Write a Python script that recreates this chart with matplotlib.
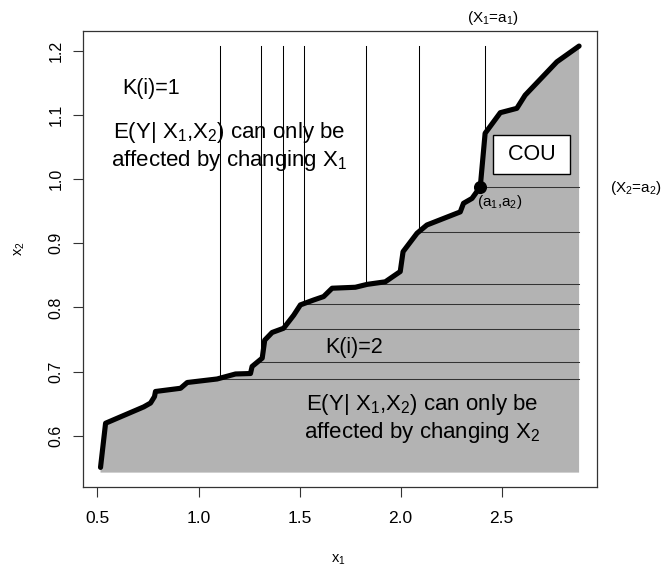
import numpy as np
import matplotlib
matplotlib.use("Agg")
import matplotlib.pyplot as plt

# フォント設定（Helvetica 相当）
plt.rcParams['font.family'] = ['Liberation Sans', 'DejaVu Sans']
plt.rcParams['mathtext.fontset'] = 'custom'
plt.rcParams['mathtext.rm'] = 'Liberation Sans'
plt.rcParams['mathtext.it'] = 'Liberation Sans:italic'
plt.rcParams['mathtext.bf'] = 'Liberation Sans:bold'

# 境界曲線 (x1, x2)
curve_x = [0.515, 0.540, 0.729, 0.7625, 0.782, 0.787, 0.911, 0.944, 1.092, 1.183,
           1.257, 1.265, 1.315, 1.3275, 1.364, 1.421, 1.471, 1.504, 1.570, 1.619,
           1.661, 1.776, 1.834, 1.924, 1.998, 2.012, 2.081, 2.130, 2.295, 2.311,
           2.353, 2.394, 2.418, 2.493, 2.575, 2.616, 2.773, 2.883]
curve_y = [0.5506, 0.6195, 0.645, 0.651, 0.661, 0.669, 0.674, 0.683, 0.6885, 0.6963,
           0.697, 0.708, 0.721, 0.749, 0.761, 0.7676, 0.788, 0.804, 0.8117, 0.817,
           0.830, 0.8315, 0.836, 0.840, 0.856, 0.887, 0.9157, 0.9286, 0.949, 0.9624,
           0.970, 0.988, 1.0716, 1.1037, 1.1105, 1.131, 1.183, 1.2076]
fill_floor = 0.5425

# K(i)=1 の縦線 / K(i)=2 の横線
vcut_x = [1.105, 1.308, 1.4185, 1.522, 1.830, 2.0887, 2.415]
hcut_y = [0.6885, 0.7155, 0.766, 0.8055, 0.836, 0.917, 0.988]

# 点 (a1, a2)
a1, a2 = 2.394, 0.988

cx = np.array(curve_x)
cy = np.array(curve_y)
x_right = cx[-1]
y_top = cy[-1]

fig = plt.figure(figsize=(6.61, 5.70), dpi=100)
ax = fig.add_axes([0.1260, 0.1451, 0.7776, 0.8011])
ax.set_xlim(0.4297, 2.973)
ax.set_ylim(0.5196, 1.2316)

# 塗りつぶし領域
ax.fill(np.r_[cx, x_right, cx[0]], np.r_[cy, fill_floor, fill_floor],
        color='#b3b3b3', lw=0, zorder=1)

# 縦線: 曲線から上端まで
for xv in vcut_x:
    yb = np.interp(xv, cx, cy)
    ax.plot([xv, xv], [yb, y_top], color='black', lw=0.75, zorder=2)

# 横線: 曲線から右端まで
for yh in hcut_y:
    xb = np.interp(yh, cy, cx)
    ax.plot([xb, x_right], [yh, yh], color='#333333', lw=0.75, zorder=2)

ax.plot(cx, cy, color='black', lw=3.7, solid_capstyle='round',
        solid_joinstyle='round', zorder=3)
ax.plot([a1], [a2], 'o', color='black', ms=8.4, zorder=4)

# テキスト
big = 16
ax.text(0.764, 1.142, 'K(i)=1', fontsize=15.5, ha='center', va='center')
ax.text(1.1515, 1.051, 'E(Y| X$_1$,X$_2$) can only be\naffected by changing X$_1$',
        fontsize=big, ha='center', va='center', linespacing=1.2)
ax.text(1.769, 0.7376, 'K(i)=2', fontsize=15.5, ha='center', va='center')
ax.text(2.1045, 0.627, 'E(Y| X$_1$,X$_2$) can only be\naffected by changing X$_2$',
        fontsize=big, ha='center', va='center', linespacing=1.2)
ax.text(2.647, 1.0385, ' COU ', fontsize=15.5, ha='center', va='center', zorder=5,
        bbox=dict(boxstyle='square,pad=0.42', fc='white', ec='black', lw=1.0))
ax.text(2.488, 0.965, '(a$_1$,a$_2$)', fontsize=11, ha='center', va='center')
ax.text(2.4556, 1.2513, '(X$_1$=a$_1$)', fontsize=11, ha='center', va='center',
        clip_on=False)
ax.text(3.165, 0.986, '(X$_2$=a$_2$)', fontsize=11, ha='center', va='center',
        clip_on=False)

# 軸
ax.set_xticks([0.5, 1.0, 1.5, 2.0, 2.5])
ax.set_yticks([0.6, 0.7, 0.8, 0.9, 1.0, 1.1, 1.2])
ax.set_xticklabels(['0.5', '1.0', '1.5', '2.0', '2.5'])
ax.set_yticklabels(['0.6', '0.7', '0.8', '0.9', '1.0', '1.1', '1.2'])
ax.tick_params(axis='both', direction='out', length=7.2, width=0.8, color='#333333')
ax.tick_params(axis='x', labelsize=12.5, pad=10)
ax.tick_params(axis='y', labelsize=11.5, pad=7)
for lab in ax.get_yticklabels():
    lab.set_rotation(90)
    lab.set_va('center')
for sp in ax.spines.values():
    sp.set_color('#333333')
    sp.set_linewidth(0.9)

ax.set_xlabel('x$_1$', fontsize=10.5)
ax.set_ylabel('x$_2$', fontsize=10.5)
ax.xaxis.set_label_coords(0.4955, -0.1593)
ax.xaxis.label.set_va('center')
ax.yaxis.set_label_coords(-0.123, 0.522)
ax.yaxis.label.set_va('center')

fig.savefig('out.png', dpi=100)
